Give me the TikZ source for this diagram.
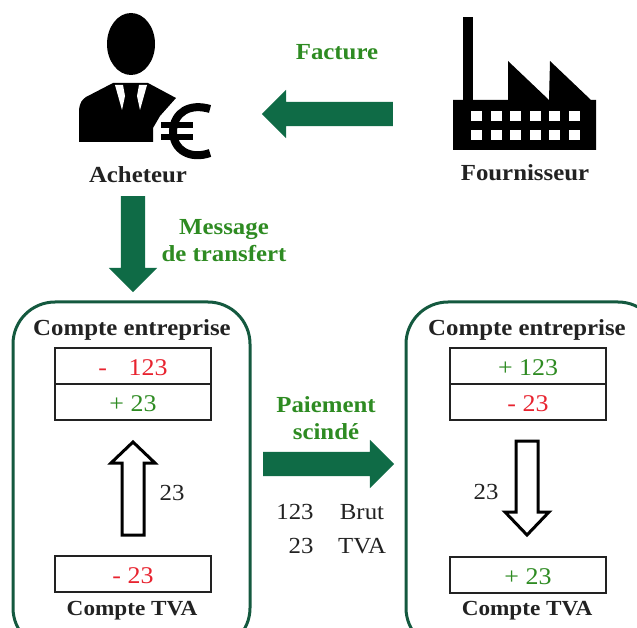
\documentclass[tikz,border=0pt]{standalone}
\usepackage{fontspec}
\setmainfont[FakeStretch=1.08]{Liberation Serif}
\usetikzlibrary{shapes.arrows}
\definecolor{arrowgreen}{HTML}{0F6B46}
\definecolor{framegreen}{HTML}{14593F}
\definecolor{textgreen}{HTML}{2E8B22}
\definecolor{textred}{HTML}{E8232F}
\definecolor{inkgray}{HTML}{222222}
\newcommand{\cellval}[1]{\raisebox{0pt}[19.5pt][0pt]{#1}}
\tikzset{
  blockarrow/.style={single arrow,fill=arrowgreen,draw=none,inner xsep=0pt,inner ysep=12pt,single arrow head extend=12pt,single arrow head indent=0pt,minimum width=48pt},
  outlinearrow/.style={draw=black,line width=3pt,fill=white,line join=miter},
  panelbox/.style={draw=framegreen,line width=3pt,rounded corners=42pt},
  cellbox/.style={draw=inkgray,line width=1.5pt,fill=white,minimum width=156pt,inner sep=0pt,font=\fontsize{24}{26}\selectfont},
  heading/.style={font=\bfseries\fontsize{23}{24}\selectfont,text=inkgray,inner sep=0pt},
  tvaheading/.style={font=\bfseries\fontsize{21.5}{24}\selectfont,text=inkgray,inner sep=0pt},
  greenlabel/.style={font=\bfseries\fontsize{23}{27}\selectfont,text=textgreen,align=center,inner sep=0pt},
  plainlabel/.style={font=\fontsize{23}{24}\selectfont,text=inkgray,inner sep=0pt},
}
\begin{document}
\begin{tikzpicture}[x=1pt,y=-1pt]
\useasboundingbox (0,0) rectangle (637,628);
\clip (0,0) rectangle (637,628);
% buyer icon
\fill[black] (131,44) ellipse [x radius=24,y radius=31];
\fill[black] (79,142) -- (79,110) .. controls (80,102) and (82,100) .. (86,97) -- (113,83) -- (148,83) -- (176,98) -- (160,116) -- (153,128) -- (153,142) -- cycle;
\fill[white] (115,85) -- (123,85) -- (125,96) -- (122,110) -- cycle;
\fill[white] (147,85) -- (139,85) -- (137,96) -- (140,110) -- cycle;
\fill[black] (131,89) ellipse [x radius=6,y radius=5];
% euro sign
\draw[black,line width=8pt] (210,109) .. controls (190,103) and (174,112) .. (173,131) .. controls (173,150) and (190,160) .. (210,153);
\draw[black,line width=6pt] (161,125) -- (193,125) (161,137) -- (193,137);
% factory icon
\fill[black] (463,17) rectangle (473,100);
\fill[black] (453,100) -- (508,100) -- (508,61) -- (549,100) -- (550,61) -- (591,100) -- (596,100) -- (596,150) -- (453,150) -- cycle;
\foreach \wx in {471,490.5,510,529.5,549,569}{
  \fill[white] (\wx,111) rectangle ++(11,10);
  \fill[white] (\wx,130) rectangle ++(11,10);
}
\node[heading] (acheteur) at (138,175) {Acheteur};
\node[heading] (fournisseur) at (525,173) {Fournisseur};
\node[greenlabel] (facture) at (337,52) {Facture};
\node[greenlabel] (message) at (224,241) {Message\\de transfert};
\node[greenlabel] (paiement) at (326,418) {Paiement\\scindé};
% block arrows
\node[blockarrow,minimum height=131pt,rotate=180] (fromsupplier) at (333.5,114) {};
\node[blockarrow,minimum height=96pt,rotate=270] (tomessage) at (133,238) {};
\node[blockarrow,minimum height=131pt] (payment) at (322.5,464) {};
% panels
\draw[panelbox] (13,302) rectangle (250,650);
\draw[panelbox] (406,302) rectangle (660,650);
% left panel
\node[heading] (cel) at (132,330) {Compte entreprise};
\node[cellbox,minimum height=36pt,text=textred] (l1) at (133,366) {\cellval{-\hspace{0.9em}123}};
\node[cellbox,minimum height=36pt,text=textgreen] (l2) at (133,402) {\cellval{+ 23}};
\node[cellbox,minimum height=36pt,text=textred] (l3) at (133,574) {\cellval{- 23}};
\node[tvaheading] (tl) at (132,611) {Compte TVA};
\draw[outlinearrow] (133,442) -- (155,463) -- (144,463) -- (144,535) -- (122,535) -- (122,463) -- (111,463) -- cycle;
\node[plainlabel] (al) at (172,493) {23};
% right panel
\node[heading] (cer) at (527,330) {Compte entreprise};
\node[cellbox,minimum height=36pt,text=textgreen] (r1) at (528,366) {\cellval{+ 123}};
\node[cellbox,minimum height=36pt,text=textred] (r2) at (528,402) {\cellval{- 23}};
\node[cellbox,minimum height=36pt,text=textgreen] (r3) at (528,575) {\cellval{+ 23}};
\node[tvaheading] (tr) at (527,611) {Compte TVA};
\draw[outlinearrow] (527,535) -- (505,512) -- (516,512) -- (516,441) -- (538,441) -- (538,512) -- (549,512) -- cycle;
\node[plainlabel] (ar) at (486,492) {23};
% amounts
\node[plainlabel] (v1) at (295,512) {123};
\node[plainlabel] (n1) at (362,512) {Brut};
\node[plainlabel] (v2) at (301,546) {23};
\node[plainlabel] (n2) at (362,546) {TVA};
\end{tikzpicture}
\end{document}
